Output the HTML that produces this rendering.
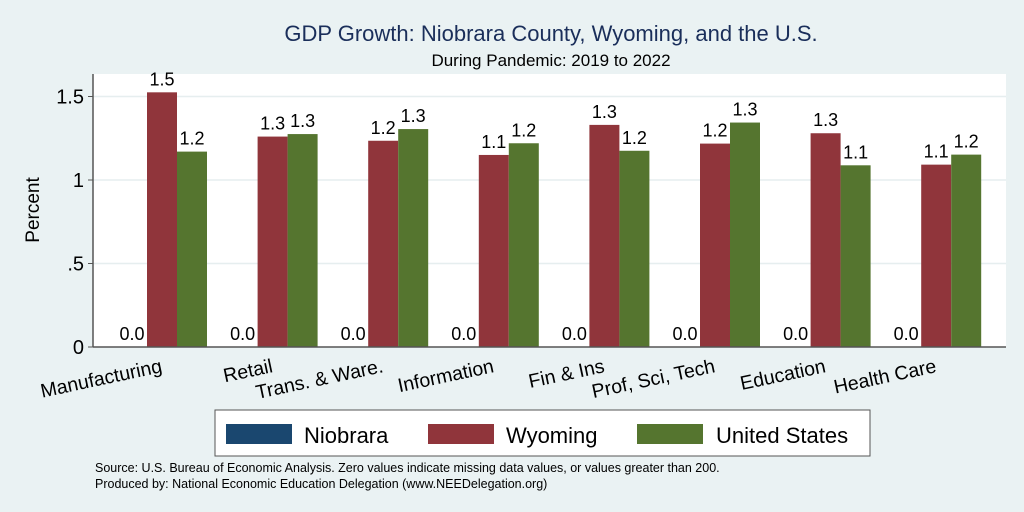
<!DOCTYPE html>
<html><head><meta charset="utf-8"><style>
body{margin:0;background:#eaf2f3;}
svg{display:block;font-family:"Liberation Sans",Arial,sans-serif;}
</style></head><body>
<svg id="chart" width="1024" height="512">
<rect x="0" y="0" width="1024" height="512" fill="#eaf2f3"/>
<text x="551" y="41" text-anchor="middle" font-size="22" fill="#1a2e5a">GDP Growth: Niobrara County, Wyoming, and the U.S.</text>
<text x="551" y="66" text-anchor="middle" font-size="17" fill="#000">During Pandemic: 2019 to 2022</text>
<rect x="93" y="74" width="913" height="273" fill="#fff"/>
<g id="grid"></g>
<g id="bars"></g>
<line x1="93" y1="74" x2="93" y2="347" stroke="#555" stroke-width="1.5"/>
<line x1="93" y1="347" x2="1006" y2="347" stroke="#555" stroke-width="1.5"/>
<text transform="translate(39,210) rotate(-90)" text-anchor="middle" font-size="19">Percent</text>
<g>
<rect x="215" y="410" width="655" height="46" fill="#fff" stroke="#555" stroke-width="1"/>
<rect x="226" y="424" width="66" height="20" fill="#1a476f"/>
<text x="304" y="443" font-size="22">Niobrara</text>
<rect x="428" y="424" width="66" height="20" fill="#90353b"/>
<text x="506" y="443" font-size="22">Wyoming</text>
<rect x="637" y="424" width="66" height="20" fill="#55752f"/>
<text x="716" y="443" font-size="22">United States</text>
</g>
<text x="95" y="472" font-size="12.5">Source: U.S. Bureau of Economic Analysis. Zero values indicate missing data values, or values greater than 200.</text>
<text x="95" y="488" font-size="12.5">Produced by: National Economic Education Delegation (www.NEEDelegation.org)</text>
</svg>
<script>
const categories=["Manufacturing","Retail","Trans. & Ware.","Information","Fin & Ins","Prof, Sci, Tech","Education","Health Care"];
const niobrara=[0,0,0,0,0,0,0,0];
const wyoming=[1.525,1.26,1.235,1.15,1.33,1.218,1.28,1.092];
const unitedStates=[1.17,1.275,1.305,1.22,1.175,1.344,1.088,1.152];
const yTicks=[0,0.5,1,1.5];
const yTickLabels=["0",".5","1","1.5"];
const NS="http://www.w3.org/2000/svg";
const y0=347,pxPerUnit=167,left=93,groupPitch=110.6,barW=30,offset=24;
function yScale(v){return y0-v*pxPerUnit;}
function xGroup(i){return left+offset+i*groupPitch;}
function mk(tag,attrs,parent){const e=document.createElementNS(NS,tag);for(const k in attrs)e.setAttribute(k,attrs[k]);parent.appendChild(e);return e;}
const grid=document.getElementById('grid'),bars=document.getElementById('bars'),svg=document.getElementById('chart');
yTicks.forEach((t,i)=>{
  if(t>0){const g=mk('line',{x1:93,x2:1006,y1:yScale(t),y2:yScale(t),stroke:'#e6eeef','stroke-width':1.5},grid);
  
  }
  const tk=mk('line',{x1:88,x2:93,y1:yScale(t),y2:yScale(t),stroke:'#555'},grid);
  
  
  const l=mk('text',{x:84,y:yScale(t)+7,'text-anchor':'end','font-size':20},grid);
  l.textContent=yTickLabels[i];
  
  
});
const series=[[niobrara,'#1a476f','niobrara'],[wyoming,'#90353b','wyoming'],[unitedStates,'#55752f','united-states']];
categories.forEach((c,i)=>{
  series.forEach(([arr,col,nm],s)=>{
    const x=xGroup(i)+s*barW,v=arr[i];
    const r=mk('rect',{x:x,y:yScale(v),width:barW,height:y0-yScale(v),fill:col},bars);
    
    
    const t=mk('text',{x:x+barW/2,y:yScale(v)-7,'text-anchor':'middle','font-size':18},bars);
    t.textContent=v.toFixed(1);
    
    
  });
  const cx=xGroup(i)+barW*1.5+1;
  const lab=mk('text',{transform:'translate('+cx+',372) rotate(-12)','text-anchor':'end','font-size':19.5},svg);
  lab.textContent=c;
  
  
});
</script>
</body></html>
